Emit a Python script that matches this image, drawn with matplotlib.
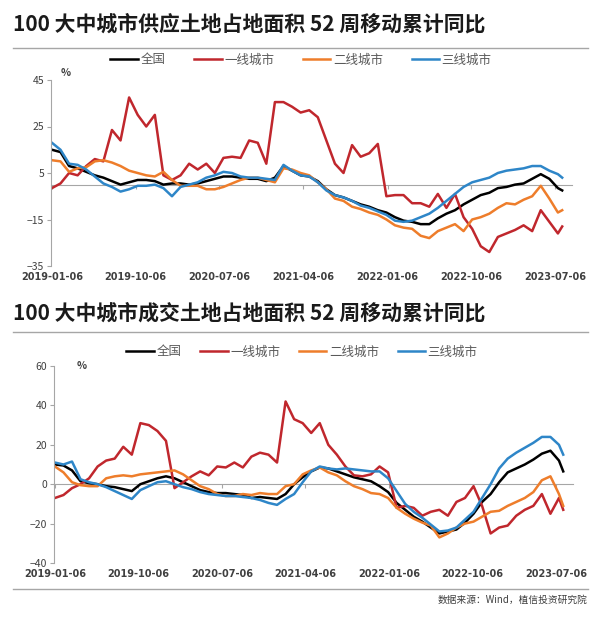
import pandas as pd
import numpy as np
import matplotlib
matplotlib.use('Agg')
import matplotlib.pyplot as plt
import matplotlib.dates as mdates
from matplotlib.lines import Line2D

plt.rcParams['font.family'] = ['Noto Sans CJK SC', 'DejaVu Sans']

## data ##
# weekly series, every 4th week + the last week
dates = list(pd.date_range('2019-01-06', periods=60, freq='28D')) + [pd.Timestamp('2023-07-30')]
series_names = ['全国', '一线城市', '二线城市', '三线城市']
tick_dates = ['2019-01-06', '2019-10-06', '2020-07-06', '2021-04-06',
              '2022-01-06', '2022-10-06', '2023-07-06']

# supply (供应)
supply_all = [15, 14, 8, 7, 5.5, 4, 3, 1.5, 0, 1, 2, 2, 1.5, 0, 0.5, 0.5, 0, 0.5, 1.5, 2.5,
              3.5, 3.5, 3, 2.5, 2.5, 1.5, 3, 8, 6, 4, 3.5, 1.5, -2, -4.5, -5.5, -7, -8.5, -9.5, -11, -12,
              -14, -15.5, -16, -17, -17, -14.5, -12.5, -11, -8.5, -6.5, -4.5, -3.5, -1.5, -1, 0, 0.5, 2.5, 4.5, 2.5, -1.5,
              -2.5]
supply_t1 = [-1.5, 0.5, 5, 4, 8, 11, 10, 23.5, 19, 37.5, 30, 25, 30, 4, 2, 4, 9, 6.5, 9, 5,
             11.5, 12, 11.5, 19, 18, 9, 35.5, 35.5, 33.5, 31, 32, 29, 19, 9, 5, 17, 12, 13.5, 17.5, -5,
             -4.5, -4.5, -8, -8, -9.5, -4, -10, -4, -14, -19, -26.5, -29, -22.5, -21, -19.5, -17.5, -20, -11, -16, -21,
             -18]
supply_t2 = [10.5, 10, 5.5, 7, 7.5, 10, 10.5, 9.5, 8, 6, 5, 4, 3.5, 5.5, 2, -0.5, -0.5, -0.5, -2, -2,
             -1, 0.5, 2, 3, 3, 2, 1, 7, 6.5, 5, 4, 1, -2, -6, -7, -9.5, -10.5, -12, -13, -15,
             -17.5, -18.5, -19, -22, -23, -20, -18.5, -17, -20, -15, -14, -12.5, -10, -8, -8.5, -6.5, -5, -0.5, -6, -12,
             -11]
supply_t3 = [18, 15, 9, 8.5, 6.5, 3.5, 0.5, -1, -3, -2, -0.5, -0.5, 0, -1.5, -5, -1, 0, 1, 3, 4,
             5.5, 5, 3.5, 3, 3, 2.5, 2, 8.5, 6, 4, 3.5, 1, -2.5, -4.5, -5.5, -7, -9, -10, -11.5, -13,
             -15.5, -16, -15.5, -14, -12.5, -10, -7, -4, -1, 1, 2, 3, 5, 6, 6.5, 7, 8, 8, 6, 4.5,
             3]

# deals (成交)
deal_all = [10, 9.5, 7, 1.5, 0.5, 0, -1, -1.5, -2.5, -3.5, 0, 1.5, 3, 4, 3, 1, -1, -3, -4, -4.5,
            -4.5, -5, -5.5, -7, -6.5, -7, -7.5, -5, 0, 3.5, 6.5, 8.5, 8, 6.5, 5, 3.5, 2.5, 1.5, -1, -4,
            -9.5, -13, -16.5, -19, -22, -25, -24, -23, -19.5, -15, -9, -5, 1, 6, 8, 10, 12.5, 15.5, 17, 12,
            6.5]
deal_t1 = [-7, -5.5, -2, 0, 3, 9, 12, 13, 19, 15, 31, 30, 27, 22, -2, 1, 4, 6.5, 4.5, 9,
           8.5, 11, 8.5, 14, 16, 15, 11, 42, 33, 31, 26, 31, 20, 15, 9, 4.5, 4, 5, 9, 6,
           -12, -11, -12, -16, -14, -13, -16, -9, -7, -1, -11, -25, -22, -21, -16, -13, -11, -5, -15, -7,
           -13]
deal_t2 = [9, 6, 1, -0.5, -1, -1, 3, 4, 4.5, 4, 5, 5.5, 6, 6.5, 7, 5, 2, -1, -2.5, -5,
           -6, -6, -5, -5.5, -4.5, -5, -5, -1, 0, 5, 7, 8.5, 6, 4.5, 1.5, -1, -2.5, -4.5, -5, -7,
           -12, -15, -17.5, -19.5, -21, -27, -25, -22, -20, -19, -16.5, -14, -13.5, -11, -9, -7, -4, 2, 4, -5,
           -11]
deal_t3 = [11, 10, 11.5, 2.5, 1, 0, -1.5, -3.5, -5.5, -7.5, -3, -1, 1, 1.5, 0, -1.5, -2.5, -4, -5, -5.5,
           -6, -6, -6.5, -7, -8, -9.5, -10.5, -7.5, -5, 1, 6.5, 9, 8, 7.5, 8, 7.5, 7, 6.5, 6.5, 3,
           -3.5, -10, -14, -17, -20.5, -24, -23.5, -22, -18, -14, -7, 0, 8, 13, 16, 18.5, 21, 24, 24, 20,
           15]


## formatting ##
colors = ['#000000', '#C0272D', '#EE7D2B', '#2E86C8']
grey = '#a6a6a6'
txt = '#404040'
x = mdates.date2num(pd.to_datetime(dates))
ticks = mdates.date2num(pd.to_datetime(tick_dates))
xmin = mdates.date2num(pd.Timestamp('2019-01-03'))
xmax = mdates.date2num(pd.Timestamp('2023-08-31'))

fig = plt.figure(figsize=(6, 6.22), dpi=100)


def draw_panel(ax, data, yticks, label_off):
    lines = []
    for vals, c in zip(data, colors):
        l, = ax.plot(x, vals, color=c, lw=1.8, solid_joinstyle='round')
        lines.append(l)
    ax.set_xlim(xmin, xmax)
    ax.set_ylim(yticks[0], yticks[-1])
    ax.set_yticks(yticks)
    ax.set_xticks(ticks)
    ax.set_xticklabels([])
    for s in ['top', 'right']:
        ax.spines[s].set_visible(False)
    ax.spines['left'].set_color(grey)
    ax.spines['bottom'].set_color(grey)
    ax.spines['bottom'].set_position(('data', 0))
    ax.spines['bottom'].set_zorder(0)
    ax.tick_params(axis='y', length=3, color=grey, labelcolor=txt, labelsize=7.5, pad=2)
    ax.tick_params(axis='x', length=3, color=grey)
    for t, lab in zip(ticks, tick_dates):
        ax.text(t, label_off, lab, transform=ax.get_xaxis_transform(), ha='center', va='top',
                fontsize=7, color=txt, family='DejaVu Sans', fontweight='bold')
    return lines


# supply panel
ax1 = fig.add_axes([51/600, 1-266/622, 521/600, 186/622])
h1 = draw_panel(ax1, [supply_all, supply_t1, supply_t2, supply_t3], [-35, -15, 5, 25, 45], -0.032)

# deal panel
ax2 = fig.add_axes([54/600, 1-563/622, 519/600, 197/622])
h2 = draw_panel(ax2, [deal_all, deal_t1, deal_t2, deal_t3], [-40, -20, 0, 20, 40, 60], -0.03)

# titles, rules and legends
fig.text(13/600, 1-24/622, '100 大中城市供应土地占地面积 52 周移动累计同比', fontsize=15,
         fontweight='bold', va='center', ha='left', color='#1a1a1a')
fig.text(13/600, 1-313/622, '100 大中城市成交土地占地面积 52 周移动累计同比', fontsize=15,
         fontweight='bold', va='center', ha='left', color='#1a1a1a')
for yy in [48, 332, 589]:
    fig.add_artist(Line2D([13/600, 588/600], [1-yy/622, 1-yy/622], color=grey, lw=1))

fig.legend(h1, series_names, loc='center', bbox_to_anchor=(301/600, 1-60/622), ncol=4,
           frameon=False, fontsize=9, handlelength=2.2, handletextpad=0.2, columnspacing=2.3,
           labelcolor='#595959')
fig.legend(h2, series_names, loc='center', bbox_to_anchor=(302/600, 1-352/622), ncol=4,
           frameon=False, fontsize=9, handlelength=2.2, handletextpad=0.2, columnspacing=1.5,
           labelcolor='#595959')

fig.text(66/600, 1-73/622, '%', fontsize=7.5, fontweight='bold', color=txt, ha='center', va='center')
fig.text(82/600, 1-366/622, '%', fontsize=7.5, fontweight='bold', color=txt, ha='center', va='center')

fig.text(587/600, 1-600/622, '数据来源：Wind，植信投资研究院', fontsize=7, color=txt,
         ha='right', va='center')

fig.savefig('out.png', dpi=100, facecolor='white')
